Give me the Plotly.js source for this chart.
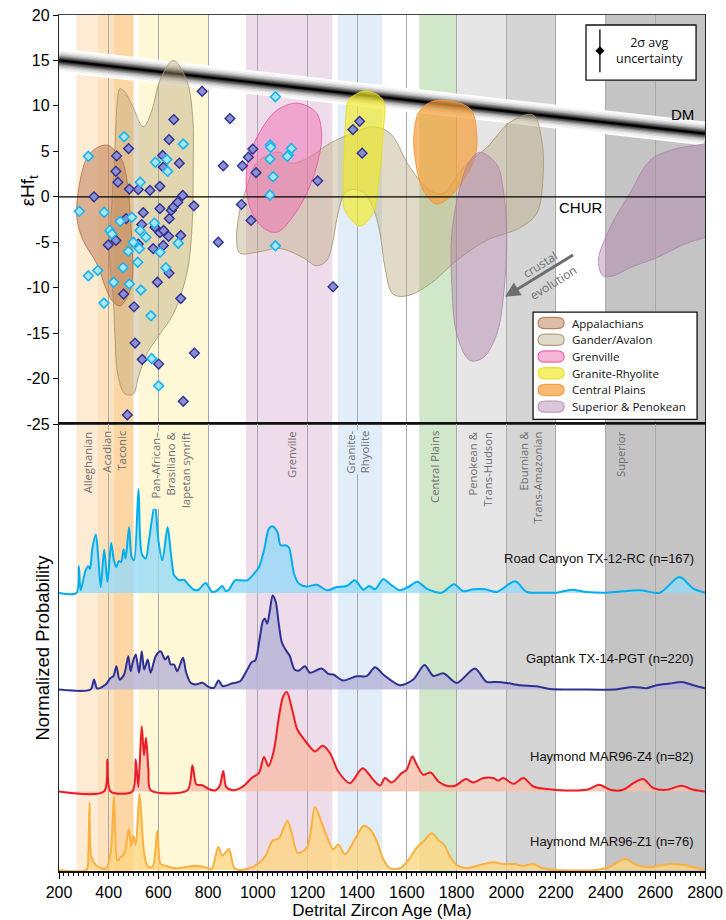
<!DOCTYPE html>
<html><head><meta charset="utf-8">
<script src="https://cdn.plot.ly/plotly-3.0.1.min.js"></script>
<style>html,body{margin:0;padding:0;background:#fff}#chart{width:726px;height:920px}</style>
</head><body><div id="chart"></div>
<script>
// ---------------- Hf isotope data (age Ma, epsilon Hf(t)) ----------------
const rcHfAge = [282,318,318,356,382,381,405,413,420,446,458,462,483,479,493,499,517,523,526,527,530,550,570,573,584,588,607,601,634,637,630,680,700,
  1071,1050,1052,1135,1124,1119,1049,1062,1049,1071];
const rcHf = [-1.6,4.45,-8.7,-8.1,-1.7,-11.7,-3.7,-4.1,-9.4,-2.7,-7.8,6.6,-9.6,-6.0,-2.25,-5.0,-7.2,-5.7,-3.7,1.6,-10.25,-4.45,-13.1,-17.8,-2.9,3.8,-6.1,-20.8,4.1,2.8,-7.8,-5.1,5.8,
  11.0,5.7,5.45,5.3,4.6,4.45,4.15,2.2,0.2,-5.4];
const gtHfAge = [341,398,429,429,432,437,460,480,483,470,502,506,475,519,519,533,539,535,566,579,586,596,601,606,606,606,617,620,620,621,641,643,643,644,652,660,662,678,684,690,690,698,700,743,745,776,841,861,888,938,934,962,973,980,993,1241,1303,1410,1383,1420];
const gtHf = [0.0,-5.3,-4.8,2.8,4.5,1.6,-10.7,5.3,0.85,-2.4,-12.1,-16.1,-24.0,0.8,-5.2,-3.05,-1.75,-17.9,0.7,-5.7,-3.35,-9.4,-18.4,1.15,-1.3,-3.95,4.55,3.25,-5.35,-3.7,-4.35,-8.4,6.3,-2.4,-1.5,-1.15,8.5,-0.6,3.7,-4.25,-11.2,0.15,-22.5,-1.0,-17.2,11.6,-5.0,3.4,8.6,3.4,-0.85,4.35,-2.6,5.25,2.65,1.75,-9.9,8.3,7.4,4.8];

// reference curves
const dmAge = [200, 2800];
const dmHf = [15.0, 6.95];
const churAge = [200, 2800];
const churHf = [0, 0];
const uncertaintyHalf = 2.35;

// ---------------- crustal province fields (age, epsilon Hf) ----------------
const appalachiansAge = [353,393,417,454,478,486,494,497,486,446,413,385,353,297,272,280,313];
const appalachiansHf  = [5.4,5.7,5.3,4.0,1.0,-1.8,-5.4,-8.5,-10.3,-12.0,-11.4,-9.8,-7.4,-4.8,-2.3,1.0,4.3];
const ganderLeftAge = [435,445,466,494,539,574,606,660,714,738,740,734,714,660,606,553,519,499,466,439,425,419,402,412,425];
const ganderLeftHf  = [10.6,11.9,11.5,10.1,7.7,9.5,12.8,15.0,12.8,8.8,3.3,-4.0,-8.5,-12.9,-15.1,-17.3,-19.9,-21.7,-21.7,-19.9,-15.1,-11.4,-5.9,-1.1,5.1];
const ganderRightAge = [915,928,955,989,1021,1090,1130,1197,1291,1383,1464,1532,1613,1693,1746,1826,1921,2015,2108,2143,2148,2123,2056,1921,1801,1693,1600,1544,1512,1492,1464,1424,1383,1351,1323,1303,1278,1237,1182,1090,996,928];
const ganderRightHf  = [-4.8,-1.5,1.0,3.5,4.3,4.9,3.7,4.2,5.9,7.0,7.7,7.0,3.2,0.7,0.4,3.2,5.4,8.2,9.0,6.2,2.1,-1.8,-3.4,-4.8,-7.0,-9.6,-10.9,-10.7,-7.8,-4.0,-1.2,0.5,0.8,0.4,-1.8,-4.8,-7.0,-7.6,-6.7,-5.7,-6.1,-6.2];
const grenvilleAge = [1157,1234,1257,1243,1197,1130,1076,1021,969,953,969,1021,1076];
const grenvilleHf  = [10.3,9.3,7.0,4.0,0.4,-2.6,-3.9,-3.4,-1.2,2.1,4.8,7.7,9.5];
const graniteAge = [1378,1439,1505,1504,1484,1464,1412,1351,1344,1351,1364];
const graniteHf  = [11.0,11.65,10.6,7.0,1.0,-1.8,-3.2,-1.5,1.0,7.0,10.6];
const centralAge = [1720,1854,1881,1874,1827,1774,1720,1666,1633,1629,1653];
const centralHf  = [10.6,9.7,7.0,4.3,1.8,0.0,-0.8,0.7,4.3,7.0,9.5];
const superiorLeftAge = [1895,1963,1987,2002,1987,1962,1907,1854,1801,1781,1781,1814,1854];
const superiorLeftHf  = [4.9,3.5,1.0,-4.0,-11.4,-15.1,-17.7,-18.0,-15.1,-9.6,-4.0,1.0,4.0];
const superiorRightAge = [2390,2371,2418,2498,2579,2659,2800,2940,2940,2800,2727,2606,2498,2431];
const superiorRightHf  = [-8.7,-7.0,-3.4,0.4,4.0,5.1,5.8,6.2,-3.7,-4.5,-5.1,-6.7,-7.8,-8.7];
const fieldNames = ['Appalachians','Gander/Avalon','Grenville','Granite-Rhyolite','Central Plains','Superior & Penokean'];

// ---------------- detrital zircon probability curves (age Ma, relative probability) ----------------
const rcAge = [200,270,280,287,307,318,325,334,348,358,368,382,395,410,421,431,441,450,460,468,482,492,502,520,533,549,562,586,600,616,637,649,663,672,683,703,723,743,761,790,817,837,857,871,884,908,931,958,985,1005,1025,1045,1059,1079,1092,1112,1126,1146,1166,1197,1237,1280,1318,1358,1391,1425,1449,1472,1505,1539,1572,1606,1642,1680,1740,1790,1827,1867,1915,1962,2036,2083,2149,2203,2263,2324,2404,2538,2619,2697,2753,2800];
const rcP = [0,0,26.7,2.7,22.7,26.7,24.3,44.4,58.4,36,6,43.4,11,50,32.7,26,32,31,43.4,34.4,66,36,32.7,103.7,39.4,34.4,52.7,89.4,52.7,32.7,66,42.7,17.7,15.3,12.7,13.3,7.7,3.3,3.3,10,1,2.7,7,2,3.3,12.7,12.7,12.7,19.3,26,42.7,64.4,66.7,61,47.7,47.7,45.3,19.3,9.3,6.5,8.3,2.7,6,7,12.7,3.3,7,3.7,13.7,7.7,2.7,6,11.3,4.3,0.3,8.7,1.7,3.7,3.7,1,11.7,1,0.3,0.3,3.3,1,0.3,2.7,0.3,16,4.3,0.3];
const gtAge = [200,327,341,354,388,408,419,431,444,462,479,488,498,509,522,533,543,557,569,589,609,627,639,649,663,676,699,712,730,750,777,804,824,842,859,895,929,958,976,990,1007,1020,1028,1038,1048,1060,1072,1085,1097,1114,1128,1148,1166,1190,1210,1257,1284,1304,1344,1398,1438,1472,1505,1572,1626,1671,1707,1747,1801,1874,1921,1962,2002,2055,2123,2176,2297,2431,2512,2565,2605,2659,2706,2753,2800];
const gtP = [0,0,10,1,5,11.7,13.3,23.3,10,15,33.3,18.3,28.3,35,16.7,38.3,20,30,16.7,33.3,38.3,30,33.3,25,25,18.3,31.7,16.7,6.7,5,6.7,2.3,1.7,9,3.3,6,8.3,20,27.5,29,50,68,71,66,78,94,88,65,47,39,34,20,19,23.3,16.7,21,15.7,15,9,13.3,13.3,22.3,15,4.3,10,24.5,13.5,16.3,6.6,21,7.6,7.6,6.6,4.3,3.3,0.5,0,0,2.6,1.3,4.3,6,7.6,4.3,1.3];
const z4Age = [200,381,394.5,408,495,509,519,533,542,550,560,569,717,737,753,777,804,831,848,861,873,898,938,978,1005,1025,1043,1065,1085,1102,1117,1139,1159,1179,1199,1230,1261,1291,1324,1371,1422,1465,1492,1512,1539,1579,1599,1622,1640,1666,1696,1727,1760,1794,1838,1868,1908,1948,1968,1988,2029,2069,2109,2163,2243,2324,2375,2418,2471,2512,2552,2592,2646,2706,2753,2800];
const z4P = [0,0,32,0,0,32,4.6,65.3,36.3,53.7,21.3,1.3,1.3,26.3,7,6.3,2.3,1.3,6.3,20.6,4.6,1.3,4.6,14,18.6,34.6,25.3,41.3,74.6,95,99.6,81.3,62,54.6,48,40,45.7,38.3,20,8.3,23.3,11.7,6,13.4,9,18.4,21.7,35,26.7,16.7,19,10,5.7,5.7,12.4,9,13.4,13.4,11,13.4,7.7,13.4,5,2.4,1,1.7,6.7,1.7,1.7,8.4,12.4,3.4,1.7,5.7,1.7,0];
const z1Age = [200,310,318,323,330,348,388,408,421,435,448,462,482,490,500,509,524,542,556,576,596,609,629,670,750,790,814,841,857,884,904,924,965,1005,1032,1059,1085,1119,1139,1160,1199,1230,1257,1280,1304,1324,1351,1391,1425,1452,1479,1505,1532,1572,1606,1640,1666,1700,1727,1751,1774,1801,1841,1894,1948,1988,2035,2069,2109,2149,2203,2364,2418,2478,2525,2579,2659,2713,2800];
const z1P = [0,0,17.6,67.6,12.6,5,1,17.6,73.6,9.3,12.6,16,41,24.3,34.3,25,76,17.6,4.3,2.6,39.3,6,4.3,1.7,4.3,2.6,1,23.3,14.3,21,2.6,0,1.7,7,14.3,29.3,31.7,49.3,34.3,17,22.6,63,47.4,32.4,20.7,25.7,15.7,30.7,44,40.7,29,10.7,1.7,1.7,10,22.3,28.3,36.7,30,25,13.3,5,1.7,5,7.7,6,6,4,6,1.7,0,0,3.3,11,5,2.7,6,5,0];
const sampleNames = ['Road Canyon TX-12-RC (n=167)','Gaptank TX-14-PGT (n=220)','Haymond MAR96-Z4 (n=82)','Haymond MAR96-Z1 (n=76)'];

// ---------------- orogenic age bands ----------------
const bandStart = [270,355,420,520,953,1323,1650,1800,2000,2400];
const bandEnd   = [355,420,500,800,1300,1500,1800,2000,2200,2800];
const bandNames = ['Alleghanian','Acadian','Taconic','Pan-African–<br>Brasiliano &<br>Iapetan synrift','Grenville','Granite-<br>Rhyolite','Central Plains','Penokean &<br>Trans-Hudson','Eburnian &<br>Trans-Amazonian','Superior'];
const bandLabelAge = [318,392,452,650,1136,1404,1713,1898,2100,2462];

const hfTicks = [-25,-20,-15,-10,-5,0,5,10,15,20];
const hfTickText = ['-25','-20','-15','-10','-5','0','5','10','15','20'];

// ---------------- styles ----------------
const bandColors = ['#FEEBD3','#FDE2BE','#FCD6A4','#FEF8D6','#EFDCEA','#E1EDF9','#D0E8C9','#E6E6E6','#D5D5D5','#C4C4C4'];
const fieldFill = ['rgba(185,120,80,0.5)','rgba(185,168,125,0.42)','rgba(240,110,175,0.5)','rgba(242,234,40,0.68)','rgba(245,160,60,0.72)','rgba(175,125,170,0.44)'];
const fieldLine = ['rgba(170,110,75,0.8)','rgba(165,150,110,0.85)','rgba(236,90,165,0.9)','rgba(230,220,40,0.9)','rgba(240,150,60,0.9)','rgba(170,125,165,0.75)'];
const curveLine = ['#00AEEF','#2E3192','#ED1C24','#FBB040'];
const curveFill = ['rgba(150,218,248,0.8)','rgba(180,178,215,0.8)','rgba(248,190,170,0.8)','rgba(254,214,130,0.8)'];
const curveOffset = [278, 181.5, 79.5, 1];
const labelY = [312, 212, 114.3, 29.3];

const traces = [];
// DM glow band (drawn beneath the crustal fields)
const dmW = [24,20,16,13,10,8,6,4,2.2];
const dmC = ['rgba(255,255,255,0.92)','#f2f2f2','#dcdcdc','#c0c0c0','#9c9c9c','#777','#555','#333','#000'];
dmW.forEach((w,k)=>traces.push({type:'scatter', mode:'lines', x:dmAge, y:dmHf, line:{color:dmC[k], width:w}, hoverinfo:'skip'}));

function closed(a){ return a.concat([a[0]]); }
function field(ax, ay, i){
  traces.push({type:'scatter', mode:'lines', x:closed(ax), y:closed(ay), xaxis:'x', yaxis:'y',
    fill:'toself', fillcolor:fieldFill[i], line:{color:fieldLine[i], width:1, shape:'spline', smoothing:1},
    hoverinfo:'skip', showlegend:false, name:fieldNames[i]});
}
field(ganderLeftAge, ganderLeftHf, 1);
field(ganderRightAge, ganderRightHf, 1);
field(appalachiansAge, appalachiansHf, 0);
field(grenvilleAge, grenvilleHf, 2);
field(graniteAge, graniteHf, 3);
field(centralAge, centralHf, 4);
field(superiorLeftAge, superiorLeftHf, 5);
field(superiorRightAge, superiorRightHf, 5);

// CHUR
traces.push({type:'scatter', mode:'lines', x:churAge, y:churHf, line:{color:'#000', width:1.3}, hoverinfo:'skip'});

// points
traces.push({type:'scatter', mode:'markers', x:gtHfAge, y:gtHf, name:'Gaptank',
  marker:{symbol:'diamond', size:7.5, color:'#8B8ED1', line:{color:'#2E3192', width:1.4}}});
traces.push({type:'scatter', mode:'markers', x:rcHfAge, y:rcHf, name:'Road Canyon',
  marker:{symbol:'diamond', size:7.5, color:'#A6E6FA', line:{color:'#1CB3EC', width:1.6}}});

// uncertainty symbol
traces.push({type:'scatter', mode:'markers', x:[2377], y:[16.06],
  error_y:{type:'data', array:[uncertaintyHalf], color:'#000', thickness:1.3, width:0},
  marker:{symbol:'diamond', size:7, color:'#000'}, hoverinfo:'skip'});

// probability curves
const kAge=[rcAge,gtAge,z4Age,z1Age], kP=[rcP,gtP,z4P,z1P];
for(let i=0;i<4;i++){
  const off = curveOffset[i];
  traces.push({type:'scatter', mode:'lines', x:[200,2800], y:[off,off], xaxis:'x2', yaxis:'y2',
    line:{width:0, color:'rgba(0,0,0,0)'}, hoverinfo:'skip'});
  traces.push({type:'scatter', mode:'lines', x:kAge[i], y:kP[i].map(v=>v+off), xaxis:'x2', yaxis:'y2',
    fill:'tonexty', fillcolor:curveFill[i], line:{color:curveLine[i], width:2, shape:'spline', smoothing:0.8},
    name:sampleNames[i], hoverinfo:'skip'});
}

// shapes
const shapes = [];
for(let i=0;i<bandStart.length;i++){
  shapes.push({type:'rect', xref:'x', yref:'paper', x0:bandStart[i], x1:bandEnd[i], y0:0, y1:1,
    fillcolor:bandColors[i], line:{width:0}, layer:'below'});
}
// uncertainty box
shapes.push({type:'rect', xref:'x', yref:'y', x0:2321, x1:2764, y0:12.83, y1:18.9,
  fillcolor:'#fff', line:{color:'#111', width:1.3}, layer:'between'});
// legend box
shapes.push({type:'rect', xref:'x', yref:'y', x0:2108, x1:2768, y0:-24.5, y1:-12.7,
  fillcolor:'#fff', line:{color:'#111', width:1.3}, layer:'between'});
const legY = [-13.89,-15.73,-17.57,-19.41,-21.25,-23.09];
const annotations = [];
legY.forEach((yy,i)=>{
  const x0=2128, x1=2233, h=0.62, rx=30, ry=0.6;
  const y0=yy-h, y1=yy+h;
  const p = `M ${x0+rx},${y0} L ${x1-rx},${y0} Q ${x1},${y0} ${x1},${y0+ry} L ${x1},${y1-ry} Q ${x1},${y1} ${x1-rx},${y1} L ${x0+rx},${y1} Q ${x0},${y1} ${x0},${y1-ry} L ${x0},${y0+ry} Q ${x0},${y0} ${x0+rx},${y0} Z`;
  shapes.push({type:'path', xref:'x', yref:'y', path:p, fillcolor:fieldFill[i], line:{color:fieldLine[i], width:1.2}, layer:'above'});
  annotations.push({xref:'x', yref:'y', x:2257, y:yy, xanchor:'left', yanchor:'middle', showarrow:false,
    text:fieldNames[i], font:{family:'Open Sans, Noto Sans, sans-serif', size:11.5, color:'#111'}});
});

// band labels
const labBg = {1:'#FDE2BE', 3:'#FEF8D6', 5:'#E1EDF9'};
bandNames.forEach((t,i)=>{
  annotations.push({xref:'x2', yref:'y2', x:bandLabelAge[i], y:441, xanchor:'center', yanchor:'top', textangle:-90,
    showarrow:false, text:t, align:'right', bgcolor: labBg[i] || 'rgba(0,0,0,0)', borderpad:0,
    font:{family:'Open Sans, Noto Sans, sans-serif', size:11.3, color:'#6D6E71'}});
});
// sample labels
sampleNames.forEach((t,i)=>{
  annotations.push({xref:'x2', yref:'y2', x:2764, y:labelY[i], xanchor:'right', yanchor:'middle', showarrow:false,
    text:t, font:{size:13, color:'#111'}});
});
annotations.push({xref:'x', yref:'y', x:2297, y:-1.2, showarrow:false, text:'CHUR', font:{size:15,color:'#000'}});
annotations.push({xref:'x', yref:'y', x:2711, y:9.0, showarrow:false, text:'DM', font:{size:15,color:'#000'}});
annotations.push({xref:'x', yref:'y', x:2578, y:16.1, showarrow:false, text:'2σ avg<br>uncertainty',
  font:{family:'Open Sans, Noto Sans, sans-serif', size:12.5, color:'#111'}});
annotations.push({xref:'x', yref:'y', x:1995, y:-11.0, ax:2281, ay:-6.2, axref:'x', ayref:'y', text:' ', showarrow:true,
  arrowhead:2, arrowsize:1, arrowwidth:3, arrowcolor:'#6D6E71'});
annotations.push({xref:'x', yref:'y', x:2136, y:-7.4, showarrow:false, text:'crustal', textangle:-32,
  font:{family:'Open Sans, Noto Sans, sans-serif', size:12, color:'#6D6E71'}});
annotations.push({xref:'x', yref:'y', x:2190, y:-9.4, showarrow:false, text:'evolution', textangle:-32,
  font:{family:'Open Sans, Noto Sans, sans-serif', size:12, color:'#6D6E71'}});
annotations.push({xref:'paper', yref:'paper', x:-0.0464, y:0.794, xanchor:'center', yanchor:'middle', showarrow:false, textangle:-90,
  text:'εHf<sub>t</sub>', font:{size:19, color:'#000'}});
annotations.push({xref:'paper', yref:'paper', x:-0.027, y:0.2605, xanchor:'center', yanchor:'middle', showarrow:false, textangle:-90,
  text:'Normalized Probability', font:{size:18.5, color:'#000'}});

const layout = {
  width:726, height:920, margin:{l:59, r:21, t:15, b:49},
  paper_bgcolor:'#fff', plot_bgcolor:'rgba(0,0,0,0)', showlegend:false,
  font:{family:'Liberation Sans, Arial, sans-serif', color:'#000'},
  xaxis:{domain:[0,1], anchor:'y', range:[200,2800], tickmode:'linear', tick0:200, dtick:200,
    showticklabels:false, ticks:'', showgrid:true, gridcolor:'#A9A9AC', gridwidth:1,
    showline:true, mirror:true, linecolor:'#444', linewidth:1.5, zeroline:false},
  yaxis:{domain:[0.5222,1], anchor:'x', range:[-25,20], tickmode:'array', tickvals:hfTicks, ticktext:hfTickText,
    ticks:'outside', ticklen:5, tickcolor:'#000', tickfont:{size:16}, showgrid:false, zeroline:false,
    showline:true, mirror:true, linecolor:'#222', linewidth:1.2},
  xaxis2:{domain:[0,1], anchor:'y2', range:[200,2800], tickmode:'linear', tick0:200, dtick:200,
    ticks:'outside', ticklen:6, tickcolor:'#000', tickfont:{size:16},
    minor:{dtick:20, ticks:'outside', ticklen:3, tickcolor:'#000', showgrid:false},
    showgrid:true, gridcolor:'#A9A9AC', gridwidth:1, showline:true, mirror:true, linecolor:'#111', linewidth:1.5, zeroline:false,
    title:{text:'Detrital Zircon Age (Ma)', font:{size:17}, standoff:8}},
  yaxis2:{domain:[0,0.5222], anchor:'x2', range:[0,447], showticklabels:false, ticks:'', showgrid:false,
    zeroline:false, showline:true, mirror:true, linecolor:'#222', linewidth:1.2},
  shapes:shapes, annotations:annotations
};
Plotly.newPlot('chart', traces, layout, {staticPlot:true, displayModeBar:false});
</script></body></html>
